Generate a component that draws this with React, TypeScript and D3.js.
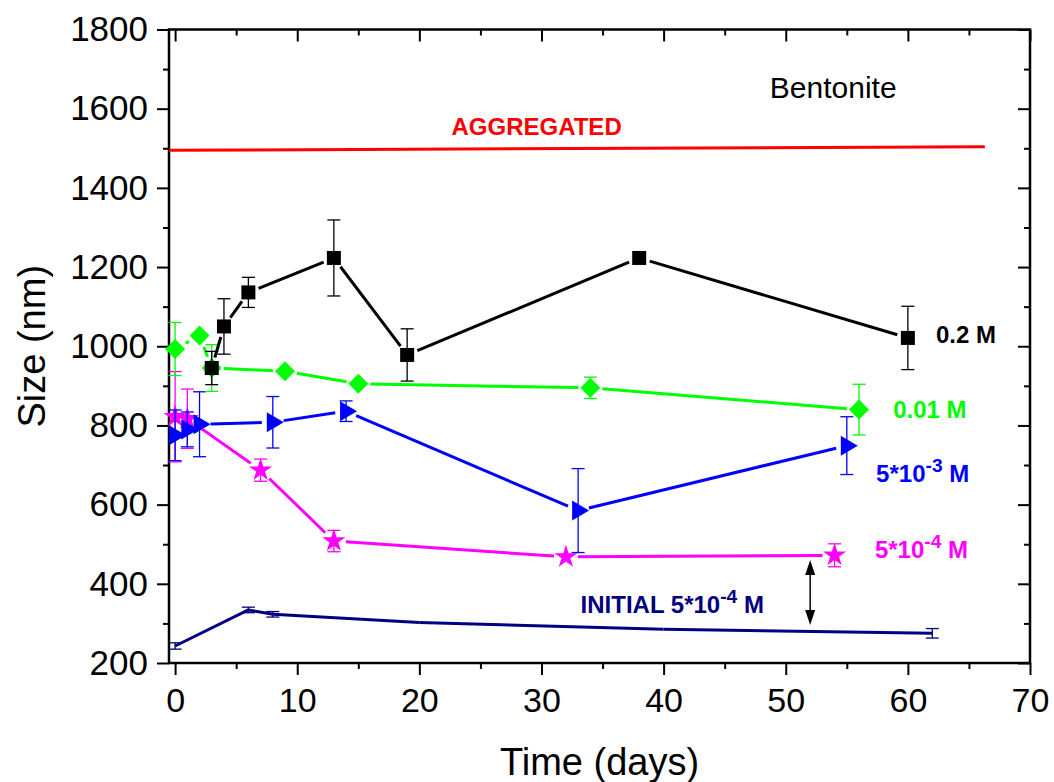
import { useEffect, useRef } from 'react';
import * as d3 from 'd3';

// 0.2 M
const blackDays = [3, 4, 6, 13, 19, 38, 60];
const blackSize = [945, 1050, 1136, 1223, 978, 1223, 1021];
const blackErr = [42, 70, 38, 96, 66, 0, 80];

// 0.01 M
const greenDays = [0, 2, 3, 9, 15, 34, 56];
const greenSize = [993, 1027, 945, 937, 905, 895, 840];
const greenErr = [67, 0, 59, 0, 0, 27, 64];

// 5*10^-3 M
const blueDays = [0, 1, 2, 8, 14, 33, 55];
const blueSize = [775, 790, 803, 808, 836, 585, 749];
const blueErr = [64, 44, 82, 65, 26, 106, 73];

// 5*10^-4 M
const pinkDays = [0, 1, 7, 13, 32, 54];
const pinkSize = [822, 817, 687, 508, 468, 472];
const pinkErr = [114, 75, 28, 27, 0, 29];

// initial 5*10^-4 M
const navyDays = [0, 6, 8, 20, 40, 62];
const navySize = [243, 334, 323, 302, 285, 275];
const navyErr = [8, 7, 7, 0, 0, 12];

// aggregated level
const aggDays = [-0.5, 66.3];
const aggSize = [1495, 1504];

// double arrow (day, from, to)
const arrowDay = 52;
const arrowSpan = [460, 296];

const xMajor = [0, 10, 20, 30, 40, 50, 60, 70];
const yMajor = [200, 400, 600, 800, 1000, 1200, 1400, 1600, 1800];

const W = 1054;
const H = 782;
const box = { left: 169, right: 1030, top: 29.5, bottom: 663 };
const font = "'Liberation Sans', Arial, Helvetica, sans-serif";

function SizeChart() {
  const ref = useRef<SVGSVGElement>(null);

  useEffect(() => {
    const svg = d3.select(ref.current).attr('width', W).attr('height', H);
    svg.selectAll('*').remove();
    svg.append('rect').attr('width', W).attr('height', H).attr('fill', '#fff');

    const x = d3.scaleLinear().domain([-0.5, 70]).range([box.left, box.right]);
    const y = d3.scaleLinear().domain([200, 1800]).range([box.bottom, box.top]);

    const xMinor = d3.range(5, 70, 10);
    const yMinor = d3.range(300, 1800, 200);

    const styleAxis = (g, size) => {
      g.select('.domain').remove();
      g.selectAll('line').attr('stroke', '#000').attr('stroke-width', 2);
      g.selectAll('text')
        .attr('font-family', font)
        .attr('font-size', size)
        .attr('fill', '#000');
    };

    // bottom
    svg.append('g')
      .attr('transform', `translate(0,${box.bottom})`)
      .call(d3.axisBottom(x).tickValues(xMajor).tickSize(12).tickPadding(13).tickFormat(d3.format('d')))
      .call(g => styleAxis(g, 34));
    svg.append('g')
      .attr('transform', `translate(0,${box.bottom})`)
      .call(d3.axisBottom(x).tickValues(xMinor).tickSize(6).tickFormat(() => ''))
      .call(g => styleAxis(g, 0));
    // top
    svg.append('g')
      .attr('transform', `translate(0,${box.top})`)
      .call(d3.axisTop(x).tickValues(xMajor).tickSize(-12).tickFormat(() => ''))
      .call(g => styleAxis(g, 0));
    svg.append('g')
      .attr('transform', `translate(0,${box.top})`)
      .call(d3.axisTop(x).tickValues(xMinor).tickSize(-6).tickFormat(() => ''))
      .call(g => styleAxis(g, 0));
    // left
    svg.append('g')
      .attr('transform', `translate(${box.left},0)`)
      .call(d3.axisLeft(y).tickValues(yMajor).tickSize(12).tickPadding(9).tickFormat(d3.format('d')))
      .call(g => styleAxis(g, 35));
    svg.append('g')
      .attr('transform', `translate(${box.left},0)`)
      .call(d3.axisLeft(y).tickValues(yMinor).tickSize(6).tickFormat(() => ''))
      .call(g => styleAxis(g, 0));
    // right
    svg.append('g')
      .attr('transform', `translate(${box.right},0)`)
      .call(d3.axisRight(y).tickValues(yMajor).tickSize(-12).tickFormat(() => ''))
      .call(g => styleAxis(g, 0));
    svg.append('g')
      .attr('transform', `translate(${box.right},0)`)
      .call(d3.axisRight(y).tickValues(yMinor).tickSize(-6).tickFormat(() => ''))
      .call(g => styleAxis(g, 0));

    svg.append('rect')
      .attr('x', box.left)
      .attr('y', box.top)
      .attr('width', box.right - box.left)
      .attr('height', box.bottom - box.top)
      .attr('fill', 'none')
      .attr('stroke', '#000')
      .attr('stroke-width', 2.5);

    // axis titles
    svg.append('text')
      .attr('x', (box.left + box.right) / 2)
      .attr('y', 775)
      .attr('text-anchor', 'middle')
      .attr('font-family', font)
      .attr('font-size', 38)
      .text('Time (days)');
    svg.append('text')
      .attr('transform', `translate(45,${(box.top + box.bottom) / 2}) rotate(-90)`)
      .attr('text-anchor', 'middle')
      .attr('font-family', font)
      .attr('font-size', 38)
      .text('Size (nm)');

    const plot = svg.append('g');

    // aggregated line
    plot.append('path')
      .datum(aggDays.map((d, i) => [d, aggSize[i]]))
      .attr('fill', 'none')
      .attr('stroke', '#ff0000')
      .attr('stroke-width', 3)
      .attr('d', d3.line().x(d => x(d[0])).y(d => y(d[1])));

    const square = d3.symbol().type(d3.symbolSquare).size(196)();
    const diamond = d3.symbol().type(d3.symbolSquare).size(200)();
    const star = d3.symbol().type(d3.symbolStar).size(165)();
    const tri = 'M-6,-10L11,0L-6,10Z';

    const series = (days, sizes, errs, color, marker, rot, gap, lw) => {
      const g = plot.append('g');
      const pts = days.map((d, i) => ({ px: x(d), py: y(sizes[i]), e: errs[i], v: sizes[i] }));

      // error bars
      pts.filter(p => p.e > 0).forEach(p => {
        const y1 = y(p.v - p.e);
        const y2 = y(p.v + p.e);
        g.append('line').attr('x1', p.px).attr('x2', p.px).attr('y1', y1).attr('y2', y2);
        g.append('line').attr('x1', p.px - 6.5).attr('x2', p.px + 6.5).attr('y1', y1).attr('y2', y1);
        g.append('line').attr('x1', p.px - 6.5).attr('x2', p.px + 6.5).attr('y1', y2).attr('y2', y2);
      });
      g.selectAll('line').attr('stroke', color).attr('stroke-width', 1.3);

      // connecting line with gaps around markers
      for (let i = 0; i < pts.length - 1; i++) {
        const a = pts[i];
        const b = pts[i + 1];
        const dx = b.px - a.px;
        const dy = b.py - a.py;
        const L = Math.hypot(dx, dy);
        if (L <= 2 * gap) continue;
        const ux = dx / L;
        const uy = dy / L;
        g.append('line')
          .attr('x1', a.px + ux * gap)
          .attr('y1', a.py + uy * gap)
          .attr('x2', b.px - ux * gap)
          .attr('y2', b.py - uy * gap)
          .attr('stroke', color)
          .attr('stroke-width', lw);
      }

      if (marker) {
        g.selectAll('path.mk')
          .data(pts)
          .join('path')
          .attr('class', 'mk')
          .attr('d', marker)
          .attr('transform', p => `translate(${p.px},${p.py}) rotate(${rot})`)
          .attr('fill', color);
      }
    };

    series(navyDays, navySize, navyErr, '#000080', null, 0, 0, 3);
    series(pinkDays, pinkSize, pinkErr, '#ff00ff', star, 0, 12, 3);
    series(blueDays, blueSize, blueErr, '#0000ff', tri, 0, 11, 3);
    series(greenDays, greenSize, greenErr, '#00ff00', diamond, 45, 12, 3);
    series(blackDays, blackSize, blackErr, '#000000', square, 0, 11, 3);

    // double-headed arrow
    const ax = x(arrowDay);
    const ay1 = y(arrowSpan[0]);
    const ay2 = y(arrowSpan[1]);
    plot.append('line')
      .attr('x1', ax).attr('x2', ax)
      .attr('y1', ay1 + 8).attr('y2', ay2 - 8)
      .attr('stroke', '#000').attr('stroke-width', 1.5);
    plot.append('path')
      .attr('d', `M${ax},${ay1}L${ax - 5},${ay1 + 15}L${ax + 5},${ay1 + 15}Z`)
      .attr('fill', '#000');
    plot.append('path')
      .attr('d', `M${ax},${ay2}L${ax - 5},${ay2 - 15}L${ax + 5},${ay2 - 15}Z`)
      .attr('fill', '#000');

    // annotations
    const note = (day, size, color, fs, bold, parts, anchor = 'start') => {
      const t = svg.append('text')
        .attr('x', x(day))
        .attr('y', y(size))
        .attr('text-anchor', anchor)
        .attr('font-family', font)
        .attr('font-size', fs)
        .attr('font-weight', bold ? 'bold' : 'normal')
        .attr('fill', color);
      parts.forEach(([s, sup]) => {
        const sp = t.append('tspan').text(s);
        if (sup === 1) sp.attr('dy', -10).attr('font-size', fs * 0.8);
        if (sup === -1) sp.attr('dy', 10);
      });
    };

    note(48.7, 1627, '#000', 30, false, [['Bentonite', 0]]);
    note(29.6, 1533, '#ff0000', 24, true, [['AGGREGATED', 0]], 'middle');
    note(62.3, 1008, '#000', 24, true, [['0.2 M', 0]]);
    note(58.8, 819, '#00ff00', 24, true, [['0.01 M', 0]]);
    note(57.4, 658, '#0000ff', 24, true, [['5*10', 0], ['-3', 1], [' M', -1]]);
    note(57.3, 465, '#ff00ff', 24, true, [['5*10', 0], ['-4', 1], [' M', -1]]);
    note(33.2, 327, '#000080', 24, true, [['INITIAL 5*10', 0], ['-4', 1], [' M', -1]]);

    return () => { svg.selectAll('*').remove(); };
  }, []);

  return (
    <svg
      ref={ref}
      style={{ position: 'absolute', left: 0, top: 0 }}
      role="img"
      aria-label="Bentonite size vs time"
    />
  );
}

export default function App() {
  return <SizeChart />;
}
